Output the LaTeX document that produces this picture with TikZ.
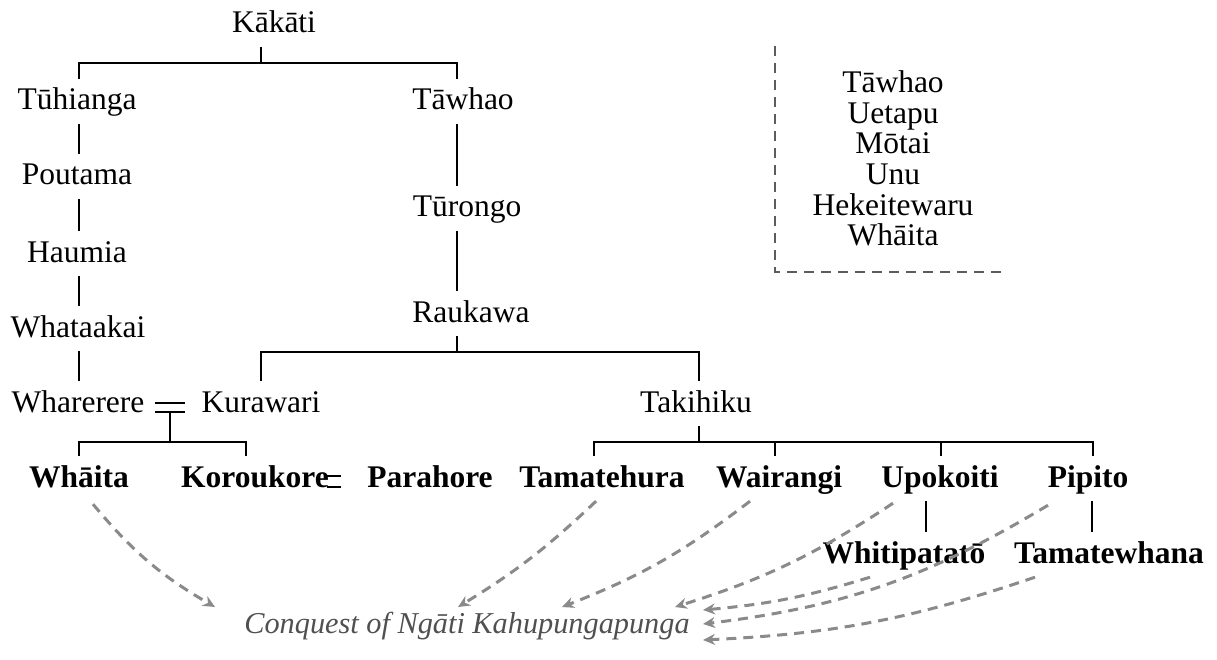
\documentclass[tikz,border=0pt]{standalone}
\usepackage{fontspec}
\setmainfont{Liberation Serif}
\usetikzlibrary{arrows.meta}
\definecolor{raidgrey}{HTML}{8A8A8A}
\definecolor{boxgrey}{HTML}{5C5C5C}
\definecolor{eventgrey}{HTML}{505050}
\begin{document}
\begin{tikzpicture}[x=1pt,y=-1pt,
  person/.style={font=\fontsize{31.5}{31.5}\selectfont, anchor=base,
    text height=24pt, text depth=7pt, inner xsep=0pt, inner ysep=7pt},
  heir/.style={person, font=\fontsize{31.5}{31.5}\selectfont\bfseries},
  listname/.style={font=\fontsize{31.5}{31.5}\selectfont, anchor=base, inner sep=0pt},
  kin/.style={line width=1.3pt},
  raid/.style={draw=raidgrey, line width=3pt, dash pattern=on 10pt off 7pt,
    -{Stealth[length=12pt,width=11pt]}},
  ]
\useasboundingbox (0,0) rectangle (1217,660);

% vertical rails for the descent lines
\coordinate (xL) at (79,0);
\coordinate (xR) at (457,0);
\coordinate (xK) at (261,0);
\coordinate (xT) at (699,0);
\coordinate (xKo) at (246,0);
\coordinate (xTa) at (594,0);
\coordinate (xWa) at (775,0);
\coordinate (xU) at (941,0);
\coordinate (xP) at (1093,0);
\coordinate (xU2) at (926,0);
\coordinate (xP2) at (1092,0);

% people
\node[person] (kakati) at (274,33) {Kākāti};
\node[person] (tuhianga) at (77,110) {Tūhianga};
\node[person] (tawhao) at (463,110) {Tāwhao};
\node[person] (poutama) at (77,185) {Poutama};
\node[person] (turongo) at (467,217) {Tūrongo};
\node[person] (haumia) at (77,262) {Haumia};
\node[person] (whataakai) at (78,337) {Whataakai};
\node[person] (raukawa) at (471,322) {Raukawa};
\node[person] (wharerere) at (78,412) {Wharerere};
\node[person] (kurawari) at (261,412) {Kurawari};
\node[person] (takihiku) at (696,412) {Takihiku};

\node[heir] (whaita) at (79,487) {Whāita};
\node[heir] (koroukore) at (255,487) {Koroukore};
\node[heir] (parahore) at (430,487) {Parahore};
\node[heir] (tamatehura) at (602,487) {Tamatehura};
\node[heir] (wairangi) at (779,487) {Wairangi};
\node[heir] (upokoiti) at (940,487) {Upokoiti};
\node[heir] (pipito) at (1088,487) {Pipito};
\node[heir] (whitipatato) at (904,563) {Whitipatatō};
\node[heir] (tamatewhana) at (1109,563) {Tamatewhana};

\node[font=\fontsize{30.3}{30}\selectfont\itshape, text=eventgrey, anchor=base, inner sep=0pt]
  (conquest) at (467,633) {Conquest of Ngāti Kahupungapunga};

% Kākāti's children
\coordinate (barK) at (261,63);
\draw[kin] (barK |- kakati.south) -- (barK);
\draw[kin] (xL |- tuhianga.north) |- (barK) -| (xR |- tawhao.north);

% line of Tūhianga
\draw[kin] (xL |- tuhianga.south) -- (xL |- poutama.north);
\draw[kin] (xL |- poutama.south) -- (xL |- haumia.north);
\draw[kin] (xL |- haumia.south) -- (xL |- whataakai.north);
\draw[kin] (xL |- whataakai.south) -- (xL |- wharerere.north);

% line of Tāwhao
\draw[kin] (xR |- tawhao.south) -- (xR |- turongo.north);
\draw[kin] (xR |- turongo.south) -- (xR |- raukawa.north);

% Raukawa's children
\coordinate (barR) at (457,352);
\draw[kin] (barR |- raukawa.south) -- (barR);
\draw[kin] (xK |- kurawari.north) |- (barR) -| (xT |- takihiku.north);

% marriage of Wharerere and Kurawari
\coordinate (wed) at (170,412);
\coordinate (barM) at (170,442);
\draw[kin] ([xshift=-15pt,yshift=9pt]wed) -- ([xshift=15pt,yshift=9pt]wed);
\draw[kin] ([xshift=-15pt]wed) -- ([xshift=15pt]wed);
\draw[kin] (wed) -- (barM);
\draw[kin] (xL |- whaita.north) |- (barM) -| (xKo |- koroukore.north);

% Koroukore's marriage mark
\coordinate (wed2) at (334,487);
\draw[kin] ([xshift=-7pt,yshift=11pt]wed2) -- ([xshift=7pt,yshift=11pt]wed2);
\draw[kin] ([xshift=-7pt]wed2) -- ([xshift=7pt]wed2);

% Takihiku's children
\coordinate (barT) at (699,442);
\draw[kin] (barT |- takihiku.south) -- (barT);
\draw[kin] (xTa |- tamatehura.north) |- (barT) -| (xP |- pipito.north);
\draw[kin] (xWa |- wairangi.north) -- (xWa |- barT);
\draw[kin] (xU |- upokoiti.north) -- (xU |- barT);
\draw[kin] (xU2 |- upokoiti.south) -- (xU2 |- whitipatato.north);
\draw[kin] (xP2 |- pipito.south) -- (xP2 |- tamatewhana.north);

% the Tāwhao to Whāita line
\draw[draw=boxgrey, line width=2.6pt, dash pattern=on 10pt off 7pt]
  (775,46) -- (775,272) -- (1001,272);
\node[listname] (l1) at (893,93) {Tāwhao};
\node[listname] (l2) at (893,124) {Uetapu};
\node[listname] (l3) at (893,154) {Mōtai};
\node[listname] (l4) at (893,185) {Unu};
\node[listname] (l5) at (893,216) {Hekeitewaru};
\node[listname] (l6) at (893,246) {Whāita};

% conquest arrows
\coordinate (t1) at (215,607);
\coordinate (t2) at (458,607);
\coordinate (t3) at (562,607);
\coordinate (t4) at (675,607);
\coordinate (t5) at (703,610);
\coordinate (t6) at (703,624);
\coordinate (t7) at (703,640);
\draw[raid] ([xshift=14pt,yshift=-3pt]whaita.south) to[bend right=10] (t1);
\draw[raid] ([xshift=-6pt]tamatehura.south) to[bend left=6] (t2);
\draw[raid] ([xshift=-29pt]wairangi.south) to[bend left=8] (t3);
\draw[raid] ([xshift=-47pt,yshift=-2pt]upokoiti.south) to[bend left=8] (t4);
\draw[raid] ([xshift=-34pt]whitipatato.south) to[bend left=6] (t5);
\draw[raid] ([xshift=-40pt,yshift=-4pt]pipito.south) to[bend left=12] (t6);
\draw[raid] ([xshift=-74pt]tamatewhana.south) to[bend left=8] (t7);
\end{tikzpicture}
\end{document}
